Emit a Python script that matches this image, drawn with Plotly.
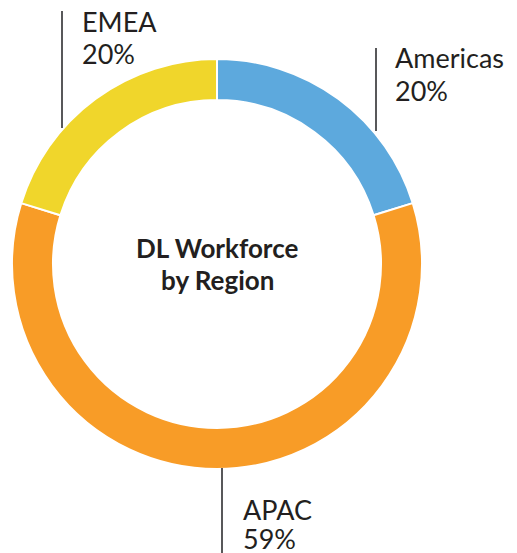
import plotly.graph_objects as go

regions = ["Americas", "APAC", "EMEA"]
shares = [20, 59, 20]
colors = ["#5DA9DD", "#F89C27", "#F0D62B"]
center_lines = ["DL Workforce", "by Region"]

W, H = 517, 553

def px(x):
    return x / W

def py(y):
    return 1 - y / H

cx, cy, r = 217, 264, 205

fig = go.Figure(go.Pie(
    labels=regions,
    values=shares,
    sort=False,
    direction="clockwise",
    rotation=0,
    hole=0.80,
    marker=dict(colors=colors, line=dict(color="white", width=2)),
    textinfo="none",
    hoverinfo="label+percent",
    domain=dict(x=[px(cx - r), px(cx + r)], y=[py(cy + r), py(cy - r)]),
    showlegend=False,
))

FS = 27
font = dict(family="Lato, sans-serif", size=FS, color="#231F20")
TOP = 0.729 * FS  # distance from annotation top to cap middle

labels_pos = [
    # (index, text_x, cap_mid_line1, cap_mid_line2, line_x, line_y0, line_y1)
    (0, 393, 59, 92, 376, 48, 131),
    (1, 241, 511, 540, 222, 468, 553),
    (2, 80, 23, 55, 62, 11, 128),
]
for i, tx, y1, y2, lx, ly0, ly1 in labels_pos:
    fig.add_shape(type="line", xref="paper", yref="paper",
                  x0=px(lx), x1=px(lx), y0=py(ly0), y1=py(ly1),
                  line=dict(color="#58585A", width=2))
    for txt, ym in ((regions[i], y1), (f"{shares[i]}%", y2)):
        fig.add_annotation(xref="paper", yref="paper", x=px(tx), y=py(ym - TOP),
                           xanchor="left", yanchor="top", align="left",
                           showarrow=False, font=font, text=txt)

CFS = 26
for txt, ym in zip(center_lines, (249, 281)):
    fig.add_annotation(xref="paper", yref="paper", x=px(cx), y=py(ym - 0.729 * CFS),
                       xanchor="center", yanchor="top", align="center",
                       showarrow=False,
                       font=dict(family="Lato, sans-serif", size=CFS, color="#231F20"),
                       text=f"<b>{txt}</b>")

fig.update_layout(width=W, height=H, margin=dict(l=0, r=0, t=0, b=0),
                  paper_bgcolor="white", plot_bgcolor="white")

fig.write_html("out.html", config={"displayModeBar": False},
               post_script="document.body.style.margin='0px';")
